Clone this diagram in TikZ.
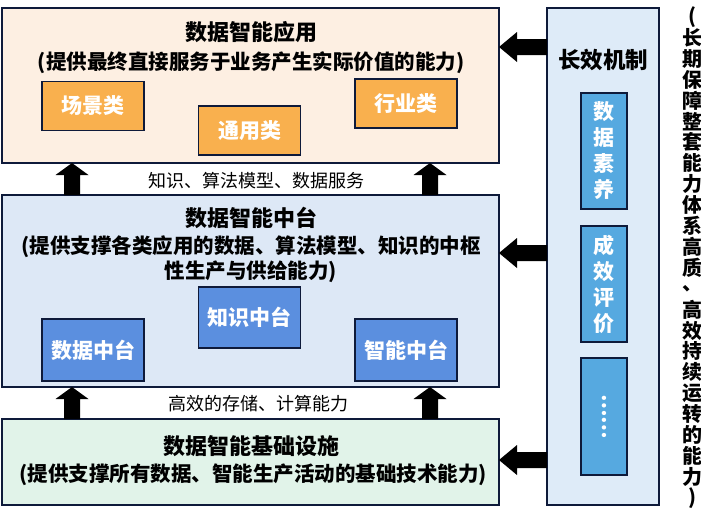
\documentclass[tikz,border=0pt]{standalone}
\usepackage{fontspec}
\newfontfamily\cjk{Noto Sans CJK SC}
\usetikzlibrary{calc}
\definecolor{navy}{HTML}{0E1A3A}
\definecolor{peach}{HTML}{FDEFE2}
\definecolor{orng}{HTML}{F9B04E}
\definecolor{lblue}{HTML}{DDE8F6}
\definecolor{mblue}{HTML}{5B8FDF}
\definecolor{lgreen}{HTML}{E1F3E9}
\definecolor{rblue}{HTML}{DEEBF8}
\definecolor{sky}{HTML}{56A9E0}
\tikzset{
 panel/.style={draw=navy, line width=1.6pt, inner sep=0pt, outer sep=0pt},
 obox/.style={panel, fill=orng, minimum width=102pt, minimum height=49pt, text=white, font=\cjk\bfseries\fontsize{21}{25}\selectfont},
 bbox/.style={panel, fill=mblue, minimum width=102pt, minimum height=62pt, text=white, font=\cjk\bfseries\fontsize{21}{25}\selectfont},
 sbox/.style={panel, fill=sky, minimum width=46pt, minimum height=116pt, text=white, align=center, font=\cjk\bfseries\fontsize{21}{26}\selectfont},
 ttl/.style={font=\cjk\bfseries\fontsize{22}{26}\selectfont, inner sep=0pt},
 subt/.style={font=\cjk\bfseries\fontsize{20.5}{25}\selectfont, inner sep=0pt, align=center},
 lbl/.style={font=\cjk\fontsize{18}{20}\selectfont, inner sep=0pt},
 vtxt/.style={font=\cjk\bfseries\fontsize{20}{20}\selectfont, inner sep=0pt},
 blockup/.style={fill=black, to path={let \p1=(\tikztostart), \p2=(\tikztotarget) in (\x1-8pt,\y1) -- (\x1-8pt,\y2-12pt) -- (\x1-16.5pt,\y2-12pt) -- (\x1,\y2) -- (\x1+16.5pt,\y2-12pt) -- (\x1+8pt,\y2-12pt) -- (\x1+8pt,\y1) -- cycle}},
 blockleft/.style={fill=black, to path={let \p1=(\tikztostart), \p2=(\tikztotarget) in (\x1,\y1-8pt) -- (\x2+18pt,\y1-8pt) -- (\x2+18pt,\y1-15pt) -- (\x2,\y1) -- (\x2+18pt,\y1+15pt) -- (\x2+18pt,\y1+8pt) -- (\x1,\y1+8pt) -- cycle}},
}
\begin{document}
\begin{tikzpicture}[x=1pt,y=-1pt]
\fill[white] (0,0) rectangle (701,512);
\useasboundingbox (0,0) rectangle (701,512);
% panels
\node[panel, fill=peach, minimum width=497pt, minimum height=155pt] (app) at (250.5,85.5) {};
\node[panel, fill=lblue, minimum width=497pt, minimum height=192pt] (mid) at (250.5,291) {};
\node[panel, fill=lgreen, minimum width=497pt, minimum height=86pt] (base) at (250.5,462) {};
\node[panel, fill=rblue, minimum width=112pt, minimum height=497pt] (R) at (603,256.5) {};
% app content
\node[ttl] (appT) at (251,32) {数据智能应用};
\node[subt] (appS) at (251,63) {(提供最终直接服务于业务产生实际价值的能力)};
\node[obox] (sc) at (93,106) {场景类};
\node[obox] (ty) at (249.5,130.5) {通用类};
\node[obox] (hy) at (406,103.5) {行业类};
% mid content
\node[ttl] (midT) at (251,218) {数据智能中台};
\node[subt] (midS) at (251,259.5) {(提供支撑各类应用的数据、算法模型、知识的中枢\\性生产与供给能力)};
\node[bbox, minimum height=61pt] (zs) at (249.5,317.5) {知识中台};
\node[bbox] (sj) at (93,350) {数据中台};
\node[bbox] (zn) at (406,350) {智能中台};
% base content
\node[ttl] (baseT) at (251,446) {数据智能基础设施};
\node[subt] (baseS) at (253,475) {(提供支撑所有数据、智能生产活动的基础技术能力)};
% labels
\node[lbl] (l1) at (256,181) {知识、算法模型、数据服务};
\node[lbl] (l2) at (258,404) {高效的存储、计算能力};
% right column
\node[ttl, font=\cjk\bfseries\fontsize{22.5}{26}\selectfont] (RT) at (603,60) {长效机制};
\node[sbox] (s1) at (604,151) {数\\据\\素\\养};
\node[sbox] (s2) at (604,284) {成\\效\\评\\价};
\node[sbox, minimum height=117pt] (s3) at (604,416.5) {};
\node[text=white, font=\cjk\bfseries\fontsize{20}{20}\selectfont, rotate=-90, inner sep=0pt] (dots) at (s3.center) {……};
% vertical text
\foreach \c [count=\i] in {{(},{长},{期},{保},{障},{整},{套},{能},{力},{体},{系},{高},{质},{、},{高},{效},{持},{续},{运},{转},{的},{能},{力},{)}}
  \node[vtxt] (v\i) at (692,{17+(\i-1)*20.9}) {\c};
% arrows
\coordinate (xl) at (72,0);
\coordinate (xr) at (430,0);
\path[blockup] (mid.north -| xl) to (app.south -| xl);
\path[blockup] (mid.north -| xr) to (app.south -| xr);
\path[blockup] (base.north -| xl) to (mid.south -| xl);
\path[blockup] (base.north -| xr) to (mid.south -| xr);
\coordinate (ya) at (0,47);
\coordinate (yb) at (0,253);
\coordinate (yc) at (0,460);
\path[blockleft] (R.west |- ya) to (app.east |- ya);
\path[blockleft] (R.west |- yb) to (mid.east |- yb);
\path[blockleft] (R.west |- yc) to (base.east |- yc);
\end{tikzpicture}
\end{document}
